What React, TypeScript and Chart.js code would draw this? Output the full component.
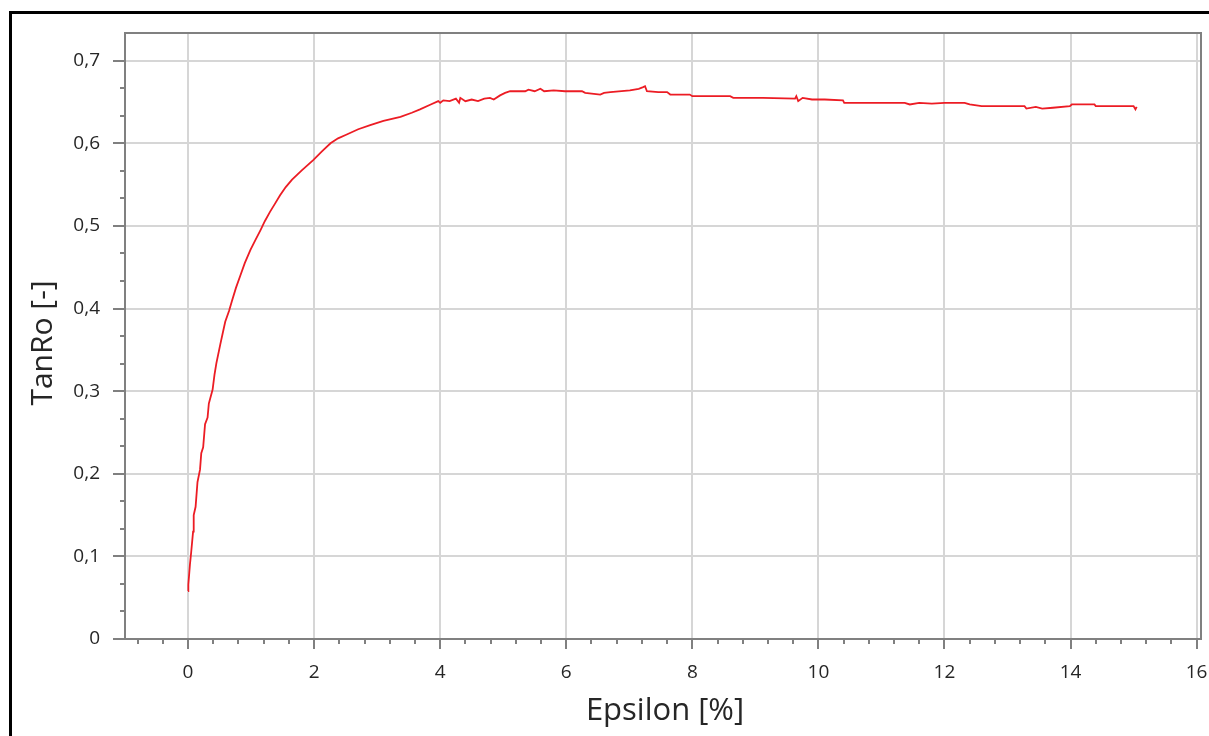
import React, { useEffect, useRef } from "react";
import { Chart, registerables } from "chart.js";

Chart.register(...registerables);

// Epsilon [%]
const epsilon: number[] = [
  0, 0.005, 0.03, 0.05, 0.08, 0.09, 0.12, 0.15, 0.19, 0.21, 0.24, 0.27, 0.31, 0.33, 0.39, 0.42,
  0.45, 0.51, 0.55, 0.59, 0.65, 0.7, 0.76, 0.83, 0.9, 0.99, 1.07, 1.15, 1.22, 1.3, 1.38, 1.46,
  1.55, 1.65, 1.8, 1.99, 2.12, 2.26, 2.38, 2.5, 2.7, 2.89, 3.1, 3.37, 3.55, 3.68, 3.85, 3.97,
  4.0, 4.05, 4.15, 4.25, 4.3, 4.32, 4.4, 4.5, 4.6, 4.7, 4.79, 4.85, 4.95, 5.03, 5.11, 5.35,
  5.4, 5.5, 5.59, 5.65, 5.8, 5.98, 6.25, 6.3, 6.54, 6.6, 6.7, 7.01, 7.15, 7.22, 7.25, 7.28,
  7.46, 7.6, 7.65, 7.96, 8.0, 8.6, 8.65, 9.12, 9.63, 9.65, 9.68, 9.75, 9.9, 10.1, 10.39, 10.41,
  11.37, 11.45, 11.6, 11.8, 12.0, 12.32, 12.4, 12.59, 13.27, 13.3, 13.45, 13.55, 13.72, 13.99,
  14.02, 14.38, 14.4, 15.0, 15.03, 15.05,
];

// TanRo [-]
const tanRo: number[] = [
  0.058, 0.066, 0.09, 0.105, 0.13, 0.15, 0.16, 0.19, 0.205, 0.225, 0.232, 0.26, 0.268, 0.285,
  0.302, 0.32, 0.334, 0.356, 0.37, 0.384, 0.397, 0.41, 0.425, 0.44, 0.455, 0.471, 0.483, 0.495,
  0.506, 0.517, 0.527, 0.537, 0.547, 0.556, 0.567, 0.58, 0.59, 0.6, 0.606, 0.61, 0.617, 0.622,
  0.627, 0.632, 0.637, 0.641, 0.647, 0.651, 0.649, 0.652, 0.651, 0.654, 0.649, 0.655, 0.651,
  0.653, 0.651, 0.654, 0.655, 0.653, 0.658, 0.661, 0.663, 0.663, 0.665, 0.663, 0.666, 0.663,
  0.664, 0.663, 0.663, 0.661, 0.659, 0.661, 0.662, 0.664, 0.666, 0.668, 0.669, 0.663, 0.662,
  0.662, 0.659, 0.659, 0.657, 0.657, 0.655, 0.655, 0.654, 0.657, 0.651, 0.655, 0.653, 0.653,
  0.652, 0.649, 0.649, 0.647, 0.649, 0.648, 0.649, 0.649, 0.647, 0.645, 0.645, 0.642, 0.644,
  0.642, 0.643, 0.645, 0.647, 0.647, 0.645, 0.645, 0.641, 0.644,
];

const xTicks: number[] = [0, 2, 4, 6, 8, 10, 12, 14, 16];
const yTicks: number[] = [0, 0.1, 0.2, 0.3, 0.4, 0.5, 0.6, 0.7];
const xTitle = "Epsilon [%]";
const yTitle = "TanRo [-]";

const FONT = "'Open Sans', 'Noto Sans', sans-serif";
const AXIS_GRAY = "#808080";
const GRID_GRAY = "#d6d6d6";
const TEXT = "#262626";

const fmt = (v: number) => {
  const r = Math.round(v * 10) / 10;
  return r === 0 ? "0" : String(r).replace(".", ",");
};

const decorPlugin = {
  id: "decor",
  afterDraw(chart: any) {
    const { ctx, chartArea: a, scales } = chart;
    const xs = scales.x;
    const ys = scales.y;
    ctx.save();
    // top and right frame
    ctx.strokeStyle = AXIS_GRAY;
    ctx.lineWidth = 2;
    ctx.beginPath();
    ctx.moveTo(a.left - 1, a.top);
    ctx.lineTo(a.right, a.top);
    ctx.lineTo(a.right, a.bottom);
    ctx.stroke();
    // minor ticks x (5 subdivisions)
    ctx.beginPath();
    for (let i = -5; i <= 80; i++) {
      if (i % 5 === 0) continue;
      const v = i * 0.4;
      if (v < xs.min || v > xs.max) continue;
      const px = Math.round(xs.getPixelForValue(v));
      ctx.moveTo(px, a.bottom);
      ctx.lineTo(px, a.bottom + 5);
    }
    // minor ticks y (3 subdivisions)
    for (let i = 0; i <= 22; i++) {
      if (i % 3 === 0) continue;
      const v = i / 30;
      if (v < ys.min || v > ys.max - 0.002) continue;
      const py = Math.round(ys.getPixelForValue(v));
      ctx.moveTo(a.left, py);
      ctx.lineTo(a.left - 5, py);
    }
    ctx.stroke();
    // axis titles
    ctx.fillStyle = TEXT;
    ctx.font = `31px ${FONT}`;
    ctx.textAlign = "center";
    ctx.textBaseline = "middle";
    ctx.fillText(xTitle, 665, 711);
    ctx.translate(43, 343);
    ctx.rotate(-Math.PI / 2);
    ctx.font = `30px ${FONT}`;
    ctx.fillText(yTitle, 0, 0);
    ctx.restore();
  },
};

export default function App() {
  const ref = useRef<HTMLCanvasElement | null>(null);
  useEffect(() => {
    document.body.style.margin = "0";
    const canvas = ref.current;
    if (!canvas) return;
    const chart = new Chart(canvas, {
      type: "line",
      data: {
        datasets: [
          {
            data: epsilon.map((x, i) => ({ x, y: tanRo[i] })),
            borderColor: "#ec1c24",
            borderWidth: 1.8,
            pointRadius: 0,
            tension: 0,
            fill: false,
          },
        ],
      },
      options: {
        responsive: false,
        animation: false,
        events: [],
        layout: { padding: { top: 33, right: 8, left: 0, bottom: 0 } },
        plugins: { legend: { display: false }, tooltip: { enabled: false } },
        scales: {
          x: {
            type: "linear",
            min: -1,
            max: 16.07,
            afterBuildTicks: (s: any) => {
              s.ticks = xTicks.map((v) => ({ value: v }));
            },
            afterFit: (s: any) => {
              s.height = 97;
              s.paddingLeft = 0;
              s.paddingRight = 0;
            },
            grid: {
              color: GRID_GRAY,
              lineWidth: 2,
              tickColor: AXIS_GRAY,
              tickWidth: 2,
              tickLength: 10,
            },
            border: { color: AXIS_GRAY, width: 2 },
            ticks: {
              color: TEXT,
              font: { family: FONT, size: 19 },
              padding: 12,
              maxRotation: 0,
              autoSkip: false,
              callback: (v: any) => String(v),
            },
          },
          y: {
            type: "linear",
            min: 0,
            max: 0.7335,
            afterBuildTicks: (s: any) => {
              s.ticks = yTicks.map((v) => ({ value: v }));
            },
            afterFit: (s: any) => {
              s.width = 125;
              s.paddingTop = 0;
              s.paddingBottom = 0;
            },
            grid: {
              color: GRID_GRAY,
              lineWidth: 2,
              tickColor: AXIS_GRAY,
              tickWidth: 2,
              tickLength: 12,
            },
            border: { color: AXIS_GRAY, width: 2 },
            ticks: {
              color: TEXT,
              font: { family: FONT, size: 19 },
              padding: 13,
              autoSkip: false,
              callback: (v: any) => fmt(Number(v)),
            },
          },
        },
      },
      plugins: [decorPlugin],
    });
    return () => chart.destroy();
  }, []);

  return (
    <div style={{ position: "relative", width: 1209, height: 736, background: "#fff", overflow: "hidden" }}>
      <canvas ref={ref} width={1209} height={736} style={{ position: "absolute", left: 0, top: 0 }} />
      <div
        style={{
          position: "absolute",
          left: 9,
          top: 11,
          width: 1300,
          height: 800,
          borderLeft: "3px solid #000",
          borderTop: "3px solid #000",
          pointerEvents: "none",
        }}
      />
    </div>
  );
}
